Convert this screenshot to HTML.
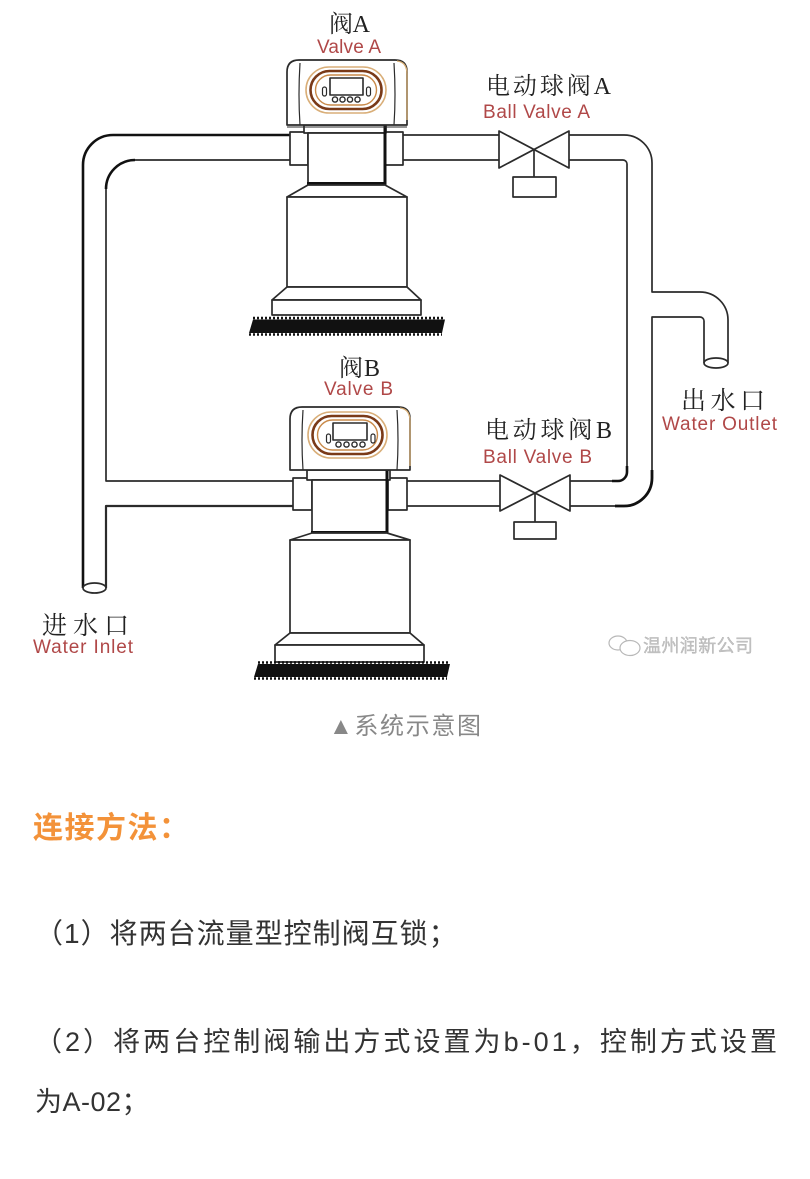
<!DOCTYPE html>
<html>
<head>
<meta charset="utf-8">
<style>
  html,body{margin:0;padding:0;background:#fff;}
  body{width:810px;height:1179px;overflow:hidden;}
  svg{display:block;}
  .sf{font-family:"Liberation Serif","Noto Serif CJK SC",serif;fill:#222;}
  .rl{font-family:"Liberation Sans","Noto Sans CJK SC",sans-serif;fill:#b04848;}
  .ss{font-family:"Liberation Sans","Noto Sans CJK SC",sans-serif;}
</style>
</head>
<body>
<svg width="810" height="1179" viewBox="0 0 810 1179" xmlns="http://www.w3.org/2000/svg">
  <g fill="none" stroke="#2b2b2b" stroke-width="1.7" stroke-linejoin="round">
    <!-- Left inlet pipe -->
    <path d="M290,135 L113,135 A30,30 0 0 0 83,165 L83,588" stroke-width="2.6" stroke="#111"/>
    <path d="M290,160 L135,160 A29,29 0 0 0 106,189 L106,481 L293,481" />
    <path d="M106,189 A29,29 0 0 1 135,160" stroke-width="2.6" stroke="#111"/>
    <path d="M293,506 L106,506 L106,588" stroke-width="2.2"/>
    <ellipse cx="94.5" cy="588" rx="11.5" ry="5" fill="#fff"/>

    <!-- Valve A to Ball Valve A -->
    <path d="M403,135 L499,135"/>
    <path d="M403,160 L499,160"/>
    <path d="M499,131 L569,168 L569,131 L499,168 Z"/>
    <path d="M534,149.5 L534,177"/>
    <rect x="513" y="177" width="43" height="20"/>

    <!-- Right side pipes -->
    <path d="M569,135 L624,135 A28,28 0 0 1 652,163 L652,292 L700,292 A28,28 0 0 1 728,320 L728,363"/>
    <path d="M569,160 L623,160 A4,4 0 0 1 627,164 L627,472 A9,9 0 0 1 618,481 L570,481"/>
    <path d="M704,363 L704,321 A4,4 0 0 0 700,317 L652,317 L652,478 A28,28 0 0 1 624,506 L570,506"/>
    <path d="M652,470 L652,478 A28,28 0 0 1 624,506 L615,506" stroke-width="2.8" stroke="#111"/>
    <path d="M627,466 L627,472 A9,9 0 0 1 618,481 L612,481" stroke-width="2.6" stroke="#111"/>
    <ellipse cx="716" cy="363" rx="12" ry="5" fill="#fff"/>

    <!-- Valve B to Ball Valve B -->
    <path d="M407,481 L500,481"/>
    <path d="M407,506 L500,506"/>
    <path d="M500,475 L570,511 L570,475 L500,511 Z"/>
    <path d="M535,493 L535,522"/>
    <rect x="514" y="522" width="42" height="17"/>

    <!-- ===== VALVE A ===== -->
    <rect x="290" y="132" width="18" height="33" fill="#fff"/>
    <rect x="385" y="132" width="18" height="33" fill="#fff"/>
    <rect x="304" y="125" width="82" height="8" fill="#fff"/>
    <rect x="308" y="133" width="77" height="50" fill="#fff"/>
    <path d="M385,125 L385,184 M307,183.5 L386.5,183.5" stroke-width="3" stroke="#111"/>
    <path d="M308,185 L385,185 L407,197 L287,197 Z" fill="#fff"/>
    <rect x="287" y="197" width="120" height="90" fill="#fff"/>
    <path d="M287,287 L407,287 L421,300 L272,300 Z" fill="#fff"/>
    <rect x="272" y="300" width="149" height="15" fill="#fff"/>
    <path d="M287,125 L287,72 Q287,60 299,60 L395,60 Q407,60 407,72 L407,125 Z" fill="#fff"/>
    <path d="M300,63 Q298,95 300,125 M394,63 Q396,95 394,125" stroke-width="1.2"/>
    <path d="M287,127 L407,127" stroke-width="1"/>
    <path d="M397,61 Q407,62 407,74 L407,120" stroke="#d7ad74" stroke-width="1.3"/>
    <rect x="306" y="67" width="80" height="46" rx="23" ry="23" stroke="#d9ae78" stroke-width="1.6"/>
    <rect x="310.5" y="71" width="71" height="38" rx="19" ry="19" stroke="#7a3a18" stroke-width="2.6"/>
    <rect x="315.5" y="75" width="61" height="30" rx="15" ry="15" stroke="#c98a4a" stroke-width="1.4"/>
    <rect x="330" y="78" width="33" height="17" stroke-width="1.6"/>
    <rect x="322.5" y="87" width="4" height="9" rx="2" stroke-width="1.2"/>
    <rect x="366.5" y="87" width="4" height="9" rx="2" stroke-width="1.2"/>
    <circle cx="335" cy="99.5" r="2.6" stroke-width="1.4"/>
    <circle cx="342.5" cy="99.5" r="2.6" stroke-width="1.4"/>
    <circle cx="350" cy="99.5" r="2.6" stroke-width="1.4"/>
    <circle cx="357.5" cy="99.5" r="2.6" stroke-width="1.4"/>

    <!-- ===== VALVE B ===== -->
    <rect x="293" y="478" width="19" height="32" fill="#fff"/>
    <rect x="388" y="478" width="19" height="32" fill="#fff"/>
    <rect x="307" y="470" width="83" height="10" fill="#fff"/>
    <rect x="312" y="480" width="75" height="52" fill="#fff"/>
    <path d="M387,470 L387,533 M311,532.5 L388.5,532.5" stroke-width="3" stroke="#111"/>
    <path d="M312,533 L387,533 L410,540 L290,540 Z" fill="#fff"/>
    <rect x="290" y="540" width="120" height="93" fill="#fff"/>
    <path d="M290,633 L410,633 L424,645 L275,645 Z" fill="#fff"/>
    <rect x="275" y="645" width="149" height="17" fill="#fff"/>
    <path d="M290,470 L290,419 Q290,407 302,407 L398,407 Q410,407 410,419 L410,470 Z" fill="#fff"/>
    <path d="M303,410 Q301,440 303,470 M397,410 Q399,440 397,470" stroke-width="1.2"/>
    <path d="M400,408 Q410,409 410,421 L410,466" stroke="#d7ad74" stroke-width="1.3"/>
    <rect x="308" y="412" width="79" height="46" rx="23" ry="23" stroke="#d9ae78" stroke-width="1.6"/>
    <rect x="312.5" y="416" width="70" height="38" rx="19" ry="19" stroke="#7a3a18" stroke-width="2.6"/>
    <rect x="317.5" y="420" width="60" height="30" rx="15" ry="15" stroke="#c98a4a" stroke-width="1.4"/>
    <rect x="333" y="423" width="34" height="17" stroke-width="1.6"/>
    <rect x="326.5" y="434" width="4" height="9" rx="2" stroke-width="1.2"/>
    <rect x="371" y="434" width="4" height="9" rx="2" stroke-width="1.2"/>
    <circle cx="338.5" cy="444.5" r="2.6" stroke-width="1.4"/>
    <circle cx="346.5" cy="444.5" r="2.6" stroke-width="1.4"/>
    <circle cx="354.5" cy="444.5" r="2.6" stroke-width="1.4"/>
    <circle cx="362.5" cy="444.5" r="2.6" stroke-width="1.4"/>
  </g>

  <!-- Grounds -->
  <g>
    <path d="M253,319.5 L445,319.5 L442,333 L249,333 Z" fill="#111"/>
    <line x1="253" y1="318" x2="445" y2="318" stroke="#111" stroke-width="2.4" stroke-dasharray="2 2"/>
    <line x1="249" y1="334.5" x2="442" y2="334.5" stroke="#111" stroke-width="2.4" stroke-dasharray="2 2"/>
    <path d="M258,664 L450,664 L447,677 L254,677 Z" fill="#111"/>
    <line x1="258" y1="662.5" x2="450" y2="662.5" stroke="#111" stroke-width="2.4" stroke-dasharray="2 2"/>
    <line x1="254" y1="678.5" x2="447" y2="678.5" stroke="#111" stroke-width="2.4" stroke-dasharray="2 2"/>
  </g>

  <!-- Diagram labels -->
  <text class="sf" x="329" y="32" font-size="24" textLength="41" lengthAdjust="spacing">阀A</text>
  <text class="rl" x="317" y="53" font-size="19" textLength="64" lengthAdjust="spacing">Valve A</text>
  <text class="sf" x="339" y="376" font-size="24" textLength="41" lengthAdjust="spacing">阀B</text>
  <text class="rl" x="324" y="395" font-size="19" textLength="69" lengthAdjust="spacing">Valve B</text>

  <text class="sf" x="486" y="94" font-size="24" textLength="125" lengthAdjust="spacing">电动球阀A</text>
  <text class="rl" x="483" y="118" font-size="19" textLength="107" lengthAdjust="spacing">Ball Valve A</text>
  <text class="sf" x="485" y="438" font-size="24" textLength="127" lengthAdjust="spacing">电动球阀B</text>
  <text class="rl" x="483" y="463" font-size="19" textLength="109" lengthAdjust="spacing">Ball Valve B</text>

  <text class="sf" x="681" y="409" font-size="25" textLength="84" lengthAdjust="spacing">出水口</text>
  <text class="rl" x="662" y="430" font-size="19" textLength="115" lengthAdjust="spacing">Water Outlet</text>
  <text class="sf" x="42" y="634" font-size="25" textLength="87" lengthAdjust="spacing">进水口</text>
  <text class="rl" x="33" y="653" font-size="19" textLength="100" lengthAdjust="spacing">Water Inlet</text>

  <!-- Watermark -->
  <g fill="#fff" stroke="#b8b8b8" stroke-width="1.2">
    <ellipse cx="618" cy="643" rx="9" ry="7"/>
    <ellipse cx="630" cy="648" rx="10" ry="7.5"/>
  </g>
  <text class="ss" x="643" y="652" font-size="18" fill="#c4c4c4" stroke="#a8a8a8" stroke-width="0.3" textLength="110" lengthAdjust="spacing">温州润新公司</text>

  <!-- Caption & body text -->
  <text class="ss" x="329" y="734" font-size="24" fill="#888" textLength="152" lengthAdjust="spacing">▲系统示意图</text>
  <text class="ss" x="33" y="838" font-size="30" font-weight="bold" fill="#f39239" letter-spacing="1.5">连接方法：</text>
  <text class="ss" x="35" y="943" font-size="28" fill="#333" letter-spacing="1">（1）将两台流量型控制阀互锁；</text>
  <text class="ss" x="35" y="1051" font-size="27" fill="#333" textLength="742" lengthAdjust="spacing">（2）将两台控制阀输出方式设置为b-01，控制方式设置</text>
  <text class="ss" x="35" y="1111" font-size="27" fill="#333" letter-spacing="0.5">为A-02；</text>
</svg>
</body>
</html>
